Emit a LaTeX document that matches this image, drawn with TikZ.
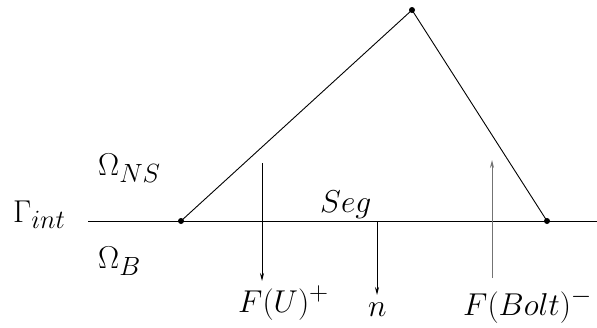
\documentclass[tikz,border=0pt]{standalone}
\usetikzlibrary{arrows.meta}
\newcommand{\mylbl}[1]{\scalebox{1.27}{\Huge$#1$}}
\begin{document}
\begin{tikzpicture}[x=1pt,y=-1pt,
  lbl/.style={inner sep=0pt,anchor=base west},
  edge/.style={line width=0.9pt,black},
  flux/.style={line width=0.9pt,-{Stealth[length=8pt,width=4pt]}},
  dot/.style={circle,fill=black,inner sep=0pt,minimum size=6pt}]
\useasboundingbox (0,0) rectangle (597,327);
% points
\node[dot] (A) at (181,221) {};
\node[dot] (T) at (412,10) {};
\node[dot] (C) at (547,221) {};
\coordinate (L) at (88,221);
\coordinate (R) at (597,221);
\draw[edge] (L) -- (R);
\draw[edge] (A.center) -- (T.center) -- (C.center);
% arrows
\coordinate (f1s) at (262,163);
\coordinate (f1e) at (262,281);
\coordinate (ns) at (377,221);
\coordinate (ne) at (377,295);
\coordinate (f2s) at (492,278);
\coordinate (f2e) at (492,160);
\draw[flux,black] (f1s) -- (f1e);
\draw[flux,black] (ns) -- (ne);
\draw[flux,black!55] (f2s) -- (f2e);
% labels
\node[lbl] (gam) at (13,222) {\mylbl{\Gamma_{int}}};
\node[lbl] (ons) at (98,175) {\mylbl{\Omega_{NS}}};
\node[lbl] (ob) at (98,268) {\mylbl{\Omega_{B}}};
\node[lbl] (seg) at (320,212) {\mylbl{Seg}};
\node[lbl] (fu) at (238,312) {\mylbl{F(U)^{+}}};
\node[lbl] (n) at (368,316) {\mylbl{n}};
\node[lbl] (fb) at (463,315) {\mylbl{F(Bolt)^{-}}};
\end{tikzpicture}
\end{document}
